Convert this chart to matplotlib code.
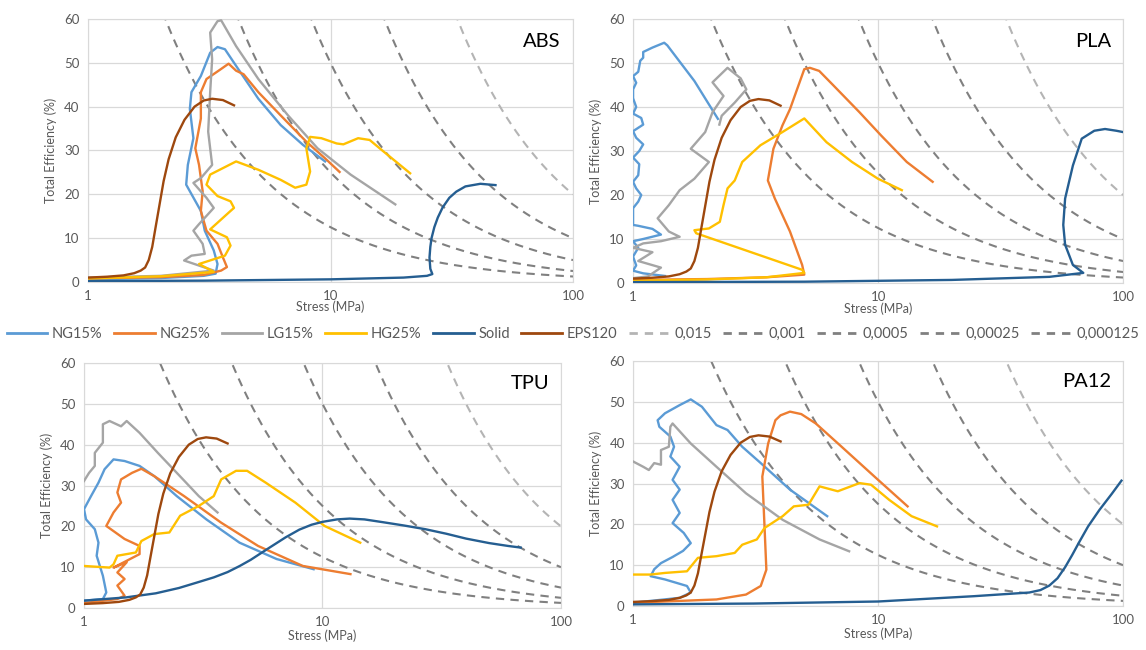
import numpy as np
import matplotlib
matplotlib.use('Agg')
import matplotlib.pyplot as plt
from matplotlib.lines import Line2D
from matplotlib.ticker import FixedLocator, FixedFormatter

plt.rcParams['font.family'] = ['Lato', 'DejaVu Sans']

# series colours (Office palette)
C_NG15 = '#5B9BD5'
C_NG25 = '#ED7D31'
C_LG15 = '#A5A5A5'
C_HG25 = '#FFC000'
C_SOLID = '#255E91'
C_EPS = '#9E480E'

# iso-energy reference curves: efficiency = k / stress
iso_k = [2000, 1000, 500, 250, 125]
iso_labels = ['0,015', '0,001', '0,0005', '0,00025', '0,000125']
iso_colors = ['#B4B4B4', '#808080', '#808080', '#808080', '#808080']

# EPS120 foam reference (same in every panel)
eps_s = [1.0, 1.2, 1.4, 1.55, 1.65, 1.72, 1.78, 1.84, 1.9, 1.97, 2.05, 2.15, 2.3, 2.5, 2.75,
         3.0, 3.25, 3.6, 4.0]
eps_e = [1.0, 1.2, 1.5, 2.0, 2.6, 3.3, 5.0, 8.0, 12.5, 17.5, 23.0, 28.0, 33.0, 37.0, 40.0,
         41.4, 41.8, 41.5, 40.3]

# ---------------- ABS ----------------
abs_ng15_s = [1.0, 2.0, 3.0, 3.36, 3.42, 3.3, 3.03, 2.92, 2.54, 2.58, 2.72, 2.63, 2.67, 2.92, 3.19,
              3.42, 3.67, 4.08, 5.04, 6.23, 7.69, 9.5]
abs_ng15_e = [0.6, 0.9, 1.4, 1.9, 4.1, 7.2, 11.7, 16.2, 22.2, 26.7, 32.8, 39.5, 43.3, 47.0, 52.3,
              53.6, 53.1, 49.3, 41.8, 35.8, 31.3, 27.5]
abs_ng25_s = [1.0, 2.0, 3.0, 3.54, 3.74, 3.6, 3.42, 3.08, 2.92, 2.97, 2.87, 2.77, 2.92, 2.92, 3.08,
              3.54, 3.8, 4.08, 4.38, 5.04, 6.23, 7.95, 9.5, 10.9]
abs_ng25_e = [0.8, 1.1, 1.6, 2.6, 3.4, 5.6, 8.7, 11.7, 16.2, 20.7, 26.7, 30.5, 37.3, 43.3, 46.3,
              48.6, 49.8, 48.2, 47.4, 43.3, 38.0, 32.0, 28.2, 25.1]
abs_lg15_s = [1.0, 2.0, 3.3, 2.49, 2.67, 3.03, 2.97, 2.72, 2.87, 3.3, 3.08, 2.72, 2.92, 3.25, 3.13,
              3.19, 3.25, 3.19, 3.42, 3.54, 4.08, 5.04, 6.68, 8.84, 12.1, 18.5]
abs_lg15_e = [1.0, 1.4, 2.6, 4.9, 6.0, 6.4, 8.7, 11.7, 13.2, 16.9, 19.2, 22.6, 23.7, 26.7, 34.3,
              43.3, 50.8, 56.9, 59.5, 59.7, 53.8, 46.3, 38.0, 30.5, 24.5, 17.7]
abs_hg25_s = [1.0, 2.0, 3.3, 2.87, 3.67, 3.87, 3.74, 3.19, 3.87, 4.0, 3.87, 3.42, 3.08, 3.19, 4.08,
              5.04, 6.23, 7.15, 7.95, 8.24, 7.95, 8.24, 9.17, 10.6, 11.3, 13.0, 14.5, 16.6, 21.3]
abs_hg25_e = [0.8, 1.3, 2.3, 4.1, 6.0, 8.3, 10.2, 12.0, 16.2, 16.9, 18.4, 19.6, 22.2, 24.5, 27.5,
              25.6, 23.3, 21.5, 22.2, 25.2, 30.5, 33.1, 32.8, 31.6, 31.4, 32.8, 32.4, 29.7, 24.8]
abs_solid_s = [1.0, 3.0, 10.0, 20.0, 25.0, 26.3, 25.8, 25.6, 25.8, 26.1, 26.8, 27.7, 29.0, 30.9,
               33.0, 36.0, 41.5, 47.9]
abs_solid_e = [0.2, 0.3, 0.6, 1.0, 1.4, 1.8, 3.0, 5.6, 8.0, 10.0, 12.5, 14.7, 17.0, 19.2,
               20.6, 21.8, 22.4, 22.1]

# ---------------- PLA ----------------
pla_ng15_s = [1.35, 1.1, 1.0, 1.03, 1.0, 1.05, 1.0, 1.1, 1.3, 1.2, 1.05, 1.0, 1.0, 1.05, 1.08,
              1.03, 1.0, 1.05, 1.06, 1.0, 1.06, 1.1, 1.03, 1.0, 1.1, 1.08, 1.0, 1.03, 1.0, 1.0,
              1.03, 1.0, 1.05, 1.07, 1.1, 1.1, 1.2, 1.34, 1.38, 1.78, 2.22]
pla_ng15_e = [1.6, 2.2, 2.8, 4.0, 6.0, 8.0, 9.5, 10.0, 11.0, 12.3, 13.0, 13.2, 17.0, 18.5, 20.0,
              21.5, 23.0, 24.5, 27.0, 28.5, 30.0, 31.5, 33.0, 34.5, 36.0, 37.5, 38.5, 40.0, 42.0, 44.0,
              45.5, 47.0, 48.0, 50.5, 51.2, 52.5, 53.5, 54.6, 54.0, 45.9, 37.3]
pla_ng25_s = [1.0, 2.0, 3.5, 5.0, 4.9, 4.37, 3.79, 3.55, 3.74, 4.07, 4.37, 4.67, 5.0, 5.27, 5.75,
              6.6, 8.4, 10.3, 13.1, 16.7]
pla_ng25_e = [0.7, 0.9, 1.3, 1.9, 4.1, 11.7, 19.2, 23.3, 30.5, 35.8, 39.5, 44.0, 48.6, 48.9, 48.2,
              44.8, 38.8, 33.5, 27.5, 23.0]
pla_lg15_s = [1.0, 1.15, 1.3, 1.05, 1.2, 1.0, 1.1, 1.3, 1.55, 1.4, 1.26, 1.4, 1.55, 1.78, 2.04,
              1.72, 1.97, 2.11, 2.34, 2.11, 2.43, 2.75, 2.9, 2.6, 2.3, 2.25]
pla_lg15_e = [1.1, 1.5, 3.5, 5.0, 7.0, 8.0, 9.0, 9.5, 10.5, 11.7, 14.7, 17.7, 21.1, 23.7, 27.5,
              30.5, 34.3, 38.8, 42.5, 45.6, 48.9, 46.5, 44.0, 41.0, 38.0, 36.0]
pla_hg25_s = [1.0, 2.0, 3.5, 5.0, 4.9, 1.81, 1.78, 2.04, 2.26, 2.34, 2.43, 2.6, 2.79, 3.31, 4.07,
              5.0, 6.16, 7.83, 9.99, 12.5]
pla_hg25_e = [0.5, 0.8, 1.3, 2.3, 3.0, 11.3, 12.0, 12.4, 13.9, 17.7, 21.5, 23.3, 27.5, 31.3, 34.3,
              37.4, 32.0, 27.5, 23.7, 21.1]
pla_solid_s = [1.0, 5.0, 20.0, 50.0, 68.8, 62.4, 58.0, 57.0, 58.0, 62.4, 67.8, 76.3, 84.4, 93.9, 100.0]
pla_solid_e = [0.2, 0.3, 0.7, 1.4, 2.3, 4.1, 8.7, 13.2, 19.2, 26.7, 32.8, 34.6, 35.0, 34.6, 34.3]

# ---------------- TPU ----------------
tpu_ng15_s = [1.0, 1.2, 1.24, 1.2, 1.13, 1.15, 1.11, 1.02, 1.0, 1.07, 1.15, 1.22, 1.33, 1.48, 1.71,
              1.97, 2.45, 3.26, 4.49, 6.42, 9.18]
tpu_ng15_e = [1.8, 2.2, 3.8, 7.9, 12.8, 16.0, 19.3, 21.7, 24.2, 27.4, 30.7, 34.0, 36.4, 36.0, 34.8,
              32.3, 27.4, 21.7, 16.0, 12.0, 9.5]
tpu_ng25_s = [1.0, 1.38, 1.48, 1.38, 1.48, 1.38, 1.51, 1.33, 1.71, 1.71, 1.48, 1.24, 1.33, 1.43,
              1.38, 1.43, 1.59, 1.74, 1.97, 2.63, 3.76, 5.37, 8.27, 13.1]
tpu_ng25_e = [1.2, 2.2, 3.0, 5.5, 7.1, 8.7, 11.2, 9.9, 13.2, 15.2, 16.9, 20.1, 23.4, 25.8,
              28.3, 31.5, 33.1, 34.1, 32.3, 27.4, 20.9, 15.2, 10.3, 8.3]
tpu_lg15_s = [1.0, 1.05, 1.11, 1.11, 1.2, 1.2, 1.28, 1.43, 1.51, 1.71, 2.04, 2.45, 3.03, 3.63]
tpu_lg15_e = [31.1, 33.1, 34.8, 38.0, 40.5, 45.0, 45.8, 44.5, 45.8, 42.9, 38.0, 33.1, 27.4, 23.4]
tpu_hg25_s = [1.0, 1.28, 1.33, 1.38, 1.65, 1.74, 1.97, 2.28, 2.53, 3.03, 3.5, 3.76, 4.34, 4.83,
              5.78, 7.7, 10.2, 14.4]
tpu_hg25_e = [10.3, 9.9, 10.7, 12.8, 13.6, 16.4, 18.1, 18.5, 22.6, 25.0, 27.4, 31.5, 33.6, 33.6,
              30.7, 25.8, 20.1, 16.0]
tpu_solid_s = [1.0, 1.5, 2.0, 2.5, 3.0, 3.5, 4.0, 4.5, 5.0, 6.0, 7.0, 8.0, 9.0, 10.0, 11.5, 13.0,
               15.0, 18.0, 22.0, 27.0, 33.0, 40.0, 50.0, 60.0, 67.8]
tpu_solid_e = [1.8, 2.6, 3.6, 4.9, 6.3, 7.5, 8.8, 10.3, 11.8, 14.8, 17.3, 19.2, 20.4, 21.1, 21.7, 21.9,
               21.7, 21.0, 20.2, 19.3, 18.2, 17.0, 15.9, 15.2, 14.8]

# ---------------- PA12 ----------------
pa_ng15_s = [1.0, 1.55, 1.72, 1.66, 1.35, 1.18, 1.22, 1.3, 1.45, 1.6, 1.72, 1.61, 1.45, 1.55, 1.45,
             1.55, 1.45, 1.55, 1.42, 1.47, 1.42, 1.28, 1.26, 1.35, 1.55, 1.72, 1.91, 2.19, 2.43,
             2.79, 3.32, 4.37, 6.2]
pa_ng15_e = [0.8, 2.0, 3.3, 4.9, 6.5, 7.3, 9.0, 10.5, 12.0, 13.5, 15.4, 17.9, 20.3, 22.8, 26.0,
             28.5, 30.9, 34.1, 36.6, 39.0, 41.5, 43.9, 45.5, 47.2, 49.2, 50.6, 48.8, 44.3, 43.1,
             39.0, 35.0, 28.5, 22.0]
pa_ng25_s = [1.0, 2.19, 2.89, 3.32, 3.5, 3.44, 3.37, 3.56, 3.81, 4.0, 4.37, 4.86, 5.57, 7.1, 10.0, 13.2]
pa_ng25_e = [0.8, 1.6, 2.8, 4.9, 8.9, 19.5, 31.7, 39.8, 45.5, 46.7, 47.6, 47.0, 44.7, 39.0, 30.9, 24.4]
pa_lg15_s = [1.0, 1.1, 1.16, 1.22, 1.3, 1.3, 1.4, 1.42, 1.45, 1.72, 2.19, 2.89, 4.08, 5.77, 7.62]
pa_lg15_e = [35.4, 34.1, 33.3, 35.0, 34.6, 38.2, 39.0, 43.9, 44.7, 39.8, 34.1, 27.6, 21.1, 16.3, 13.4]
pa_hg25_s = [1.0, 1.18, 1.35, 1.66, 1.84, 2.19, 2.6, 2.79, 3.2, 3.44, 4.08, 4.53, 5.2, 5.77, 6.85,
             8.4, 9.36, 11.1, 13.7, 17.4]
pa_hg25_e = [7.7, 7.7, 8.1, 8.5, 11.8, 12.2, 13.0, 15.0, 16.3, 19.1, 22.0, 24.4, 24.8, 29.3, 28.1,
             30.1, 29.7, 26.0, 22.0, 19.5]
pa_solid_s = [1.0, 3.1, 10.0, 24.6, 41.4, 46.0, 50.0, 54.0, 58.0, 62.0, 66.0, 72.0, 80.0, 90.0, 98.5]
pa_solid_e = [0.4, 0.6, 1.1, 2.4, 3.3, 3.9, 5.0, 6.8, 9.5, 12.5, 15.5, 19.5, 23.5, 27.5, 30.7]

panels = [
    ('ABS', [0.0768, 0.5662, 0.4232, 0.4046],
     [(abs_ng15_s, abs_ng15_e), (abs_ng25_s, abs_ng25_e), (abs_lg15_s, abs_lg15_e),
      (abs_hg25_s, abs_hg25_e), (abs_solid_s, abs_solid_e)], -1),
    ('PLA', [0.5524, 0.5646, 0.4276, 0.4062],
     [(pla_ng15_s, pla_ng15_e), (pla_ng25_s, pla_ng25_e), (pla_lg15_s, pla_lg15_e),
      (pla_hg25_s, pla_hg25_e), (pla_solid_s, pla_solid_e)], -1),
    ('TPU', [0.0733, 0.0646, 0.4162, 0.3769],
     [(tpu_ng15_s, tpu_ng15_e), (tpu_ng25_s, tpu_ng25_e), (tpu_lg15_s, tpu_lg15_e),
      (tpu_hg25_s, tpu_hg25_e), (tpu_solid_s, tpu_solid_e)], 1),
    ('PA12', [0.5524, 0.0677, 0.4276, 0.3769],
     [(pa_ng15_s, pa_ng15_e), (pa_ng25_s, pa_ng25_e), (pa_lg15_s, pa_lg15_e),
      (pa_hg25_s, pa_hg25_e), (pa_solid_s, pa_solid_e)], 1),
]
series_colors = [C_NG15, C_NG25, C_LG15, C_HG25, C_SOLID]
series_names = ['NG15%', 'NG25%', 'LG15%', 'HG25%', 'Solid']

fig = plt.figure(figsize=(11.46, 6.5), dpi=100)
stress = np.logspace(0, 2, 300)

for name, rect, data, xpad in panels:
    ax = fig.add_axes(rect)
    ax.set_xscale('log')
    ax.set_xlim(1, 100)
    ax.set_ylim(0, 60)
    ax.set_yticks(range(0, 61, 10))
    ax.xaxis.set_major_locator(FixedLocator([1, 10, 100]))
    ax.xaxis.set_major_formatter(FixedFormatter(['1', '10', '100']))
    ax.xaxis.set_minor_locator(FixedLocator([]))
    ax.grid(True, color='#D9D9D9', lw=0.9)
    ax.set_axisbelow(True)
    for sp in ax.spines.values():
        sp.set_color('#D9D9D9')
    ax.tick_params(length=0, labelsize=9.5, labelcolor='#595959', pad=6)

    for k, c in zip(iso_k, iso_colors):
        ax.plot(stress, k / stress, color=c, lw=1.5, ls=(0, (4, 3)), zorder=2)

    for (s, e), col in zip(data, series_colors):
        ax.plot(s, e, color=col, lw=1.7, zorder=3, solid_joinstyle='round')
    ax.plot(eps_s, eps_e, color=C_EPS, lw=1.7, zorder=3, solid_joinstyle='round')

    ax.text(0.975, 0.915, name, transform=ax.transAxes, ha='right', va='center',
            fontsize=14.5, color='black')
    ax.set_xlabel('Stress (MPa)', fontsize=9, color='#595959', labelpad=xpad)
    ax.set_ylabel('Total Efficiency (%)', fontsize=9, color='#595959', labelpad=5)

handles = [Line2D([], [], color=c, lw=2) for c in series_colors + [C_EPS]]
labels = series_names + ['EPS120']
handles += [Line2D([], [], color=c, lw=2, ls=(0, (3, 2.5))) for c in iso_colors]
labels += iso_labels
fig.legend(handles, labels, loc='center', bbox_to_anchor=(0.5, 0.486), ncol=11, frameon=False,
           fontsize=10.5, handlelength=2.8, handletextpad=0.3, columnspacing=0.8,
           labelcolor='#595959')

fig.savefig('out.png', dpi=100)
